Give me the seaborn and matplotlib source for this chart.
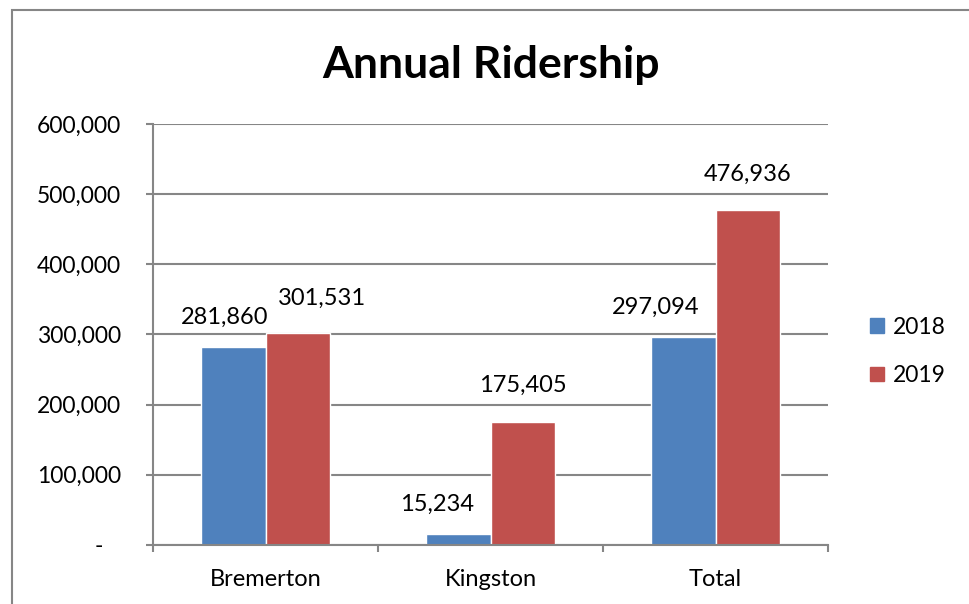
import pandas as pd
import matplotlib.pyplot as plt
import matplotlib.patches as mpatches
from matplotlib.ticker import FuncFormatter, FixedLocator
import seaborn as sns

locations = ['Bremerton', 'Kingston', 'Total']
years = ['2018', '2019']
riders_2018 = [281860, 15234, 297094]
riders_2019 = [301531, 175405, 476936]

df = pd.DataFrame({
    'Location': locations * 2,
    'Year': [years[0]] * 3 + [years[1]] * 3,
    'Riders': riders_2018 + riders_2019,
})

colors = ['#4F81BD', '#C0504D']
grey = '#868686'
# excel nudges overlapping labels sideways (pixels)
label_dx = [[-9, -21, -28], [24, 0, 0]]
label_dy = [[19, 19, 19], [25, 26, 26]]

sns.set_style('white')
plt.rcParams['font.family'] = ['Lato', 'DejaVu Sans']
plt.rcParams['text.color'] = 'black'
plt.rcParams['xtick.labelcolor'] = 'black'
plt.rcParams['ytick.labelcolor'] = 'black'

fig = plt.figure(figsize=(9.69, 6.04), dpi=100)
ax = fig.add_axes([0.158, 0.0977, 0.6965, 0.697])

sns.barplot(data=df, x='Location', y='Riders', hue='Year', palette=colors,
            width=0.57, saturation=1, ax=ax, legend=True)

ax.set_ylim(0, 600000)
ax.set_xlim(-0.5, 2.5)
ax.set_yticks(range(0, 600001, 100000))
ax.yaxis.set_major_formatter(FuncFormatter(lambda v, p: '-   ' if v == 0 else f'{v:,.0f}'))
ax.yaxis.grid(True, color=grey, linewidth=1.5)
ax.set_axisbelow(True)
ax.set_xlabel('')
ax.set_ylabel('')

for s in ['top', 'right']:
    ax.spines[s].set_visible(False)
for s in ['left', 'bottom']:
    ax.spines[s].set_color(grey)
    ax.spines[s].set_linewidth(1.5)

ax.tick_params(axis='y', which='major', left=True, length=5, width=1.5, color=grey,
               pad=18, labelsize=16.5, labelcolor='black')
ax.tick_params(axis='x', which='major', bottom=False, pad=14, labelsize=17,
               labelcolor='black')
ax.xaxis.set_minor_locator(FixedLocator([-0.5, 0.5, 1.5, 2.5]))
ax.tick_params(axis='x', which='minor', bottom=True, length=5, width=1.5, color=grey)

for i, cont in enumerate(ax.containers):
    for j, bar in enumerate(cont):
        h = bar.get_height()
        ax.annotate(f'{h:,.0f}', xy=(bar.get_x() + bar.get_width() / 2, h),
                    xytext=(label_dx[i][j], label_dy[i][j]), textcoords='offset pixels',
                    ha='center', va='bottom', fontsize=17, color='black')

handles = [mpatches.Patch(color=c, label=y) for c, y in zip(colors, years)]
ax.get_legend().remove()
fig.legend(handles=handles, loc='center left', bbox_to_anchor=(0.877, 0.418),
           frameon=False, fontsize=16.5, handlelength=0.6, handleheight=0.6,
           handletextpad=0.4, labelspacing=1.2)

fig.text(0.507, 1 - 78 / 604, 'Annual Ridership', ha='center', va='baseline',
         fontsize=32, fontweight='bold', color='black')

fig.patches.append(mpatches.Rectangle((12 / 969, -0.1), 1.0, 1.1 - 10 / 604,
                                      transform=fig.transFigure, fill=False,
                                      edgecolor=grey, linewidth=1.5))

fig.savefig('out.png', dpi=100)
